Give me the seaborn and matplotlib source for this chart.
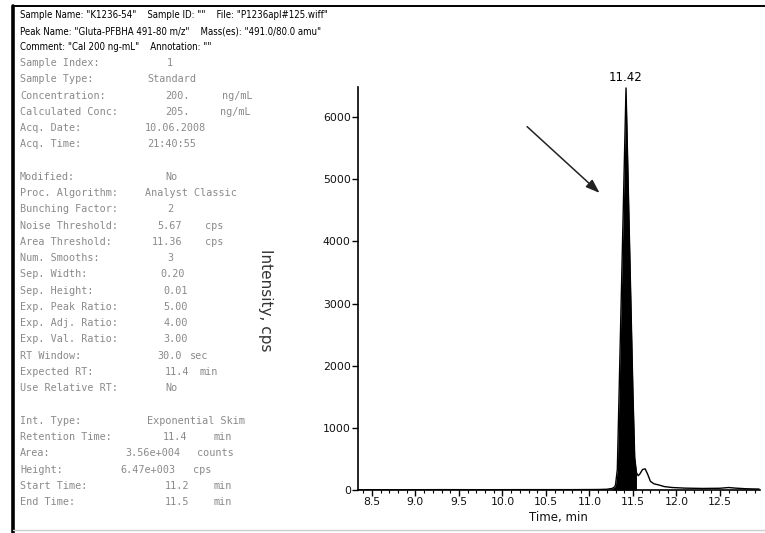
import numpy as np
import pandas as pd
import matplotlib
matplotlib.use("Agg")
import matplotlib.pyplot as plt
import seaborn as sns

# ---- chromatogram trace (XIC, 491.0/80.0 amu) ----
time_min = [8.34, 8.8, 9.3, 9.8, 10.3, 10.8, 11.1, 11.2, 11.26, 11.29, 11.30, 11.32, 11.34,
             11.36, 11.38, 11.40, 11.42, 11.44, 11.46, 11.48, 11.50, 11.52, 11.54,
             11.56, 11.58, 11.61, 11.64, 11.67, 11.70, 11.74, 11.80, 11.86, 11.95,
             12.10, 12.30, 12.50, 12.60, 12.68, 12.80, 12.95]
intensity_cps = [5, 4, 6, 5, 6, 6, 8, 12, 25, 50, 90, 330, 1540,
                 2770, 4000, 5240, 6470, 5240, 4000, 2770, 1540, 520, 280,
                 230, 260, 330, 340, 250, 140, 100, 80, 55, 40,
                 30, 25, 28, 40, 30, 20, 15]

peak_rt = 11.42
peak_height = 6470
start_time = 11.24
end_time = 11.54

x_ticks = [8.5, 9.0, 9.5, 10.0, 10.5, 11.0, 11.5, 12.0, 12.5]
y_ticks = [0, 1000, 2000, 3000, 4000, 5000, 6000]

header_lines = [
    'Sample Name: "K1236-54"    Sample ID: ""    File: "P1236apl#125.wiff"',
    'Peak Name: "Gluta-PFBHA 491-80 m/z"    Mass(es): "491.0/80.0 amu"',
    'Comment: "Cal 200 ng-mL"    Annotation: ""',
]

param_labels = ["Sample Index:", "Sample Type:", "Concentration:", "Calculated Conc:",
                "Acq. Date:", "Acq. Time:", "", "Modified:", "Proc. Algorithm:",
                "Bunching Factor:", "Noise Threshold:", "Area Threshold:", "Num. Smooths:",
                "Sep. Width:", "Sep. Height:", "Exp. Peak Ratio:", "Exp. Adj. Ratio:",
                "Exp. Val. Ratio:", "RT Window:", "Expected RT:", "Use Relative RT:", "",
                "Int. Type:", "Retention Time:", "Area:", "Height:", "Start Time:", "End Time:"]
param_values = ["1", "Standard", "200.", "205.", "10.06.2008", "21:40:55", "", "No",
                "Analyst Classic", "2", "5.67", "11.36", "3", "0.20", "0.01", "5.00", "4.00",
                "3.00", "30.0", "11.4", "No", "", "Exponential Skim",
                f"{peak_rt:.1f}", "3.56e+004", f"{peak_height/1000:.2f}e+003",
                f"{start_time:.1f}", f"{end_time:.1f}"]
param_units = ["", "", "ng/mL", "ng/mL", "", "", "", "", "", "", "cps", "cps", "", "", "",
               "", "", "", "sec", "min", "", "", "", "min", "counts", "cps", "min", "min"]
value_x = [167, 147, 165, 165, 145, 147, 0, 165, 145, 167, 157, 152, 167, 160, 163, 163,
           163, 163, 157, 165, 165, 0, 147, 163, 125, 120, 165, 165]
unit_x = [0, 0, 222, 220, 0, 0, 0, 0, 0, 0, 205, 205, 0, 0, 0, 0, 0, 0, 190, 200, 0, 0,
          0, 213, 197, 193, 213, 213]

sns.set_theme(style="white")
plt.rcParams["font.family"] = ["DejaVu Sans"]

W, H = 765, 533
fig = plt.figure(figsize=(W / 100, H / 100), dpi=100)
fig.patch.set_facecolor("white")


def px(x, y):
    return x / W, 1 - y / H


# frame lines of the report page
fig.add_artist(plt.Line2D([13 / W, 13 / W], [0, 1 - 6 / H], color="black", lw=2.6))
fig.add_artist(plt.Line2D([13 / W, 1], [1 - 6 / H, 1 - 6 / H], color="black", lw=1.4))
fig.add_artist(plt.Line2D([13 / W, 1], [1 - 530 / H, 1 - 530 / H], color="#cccccc", lw=1))

# header
for i, line in enumerate(header_lines):
    fig.text(*px(20, 15 + 16 * i), line, fontsize=6.9, color="black",
             fontstretch="condensed", va="center", ha="left")

# processing parameters
mono = dict(family="DejaVu Sans Mono", fontsize=7.3, color="#8a8a8a", va="center")
for i, (lab, val, unit, vx, ux) in enumerate(zip(param_labels, param_values, param_units,
                                                  value_x, unit_x)):
    y = 63 + 16.26 * i
    if lab:
        fig.text(*px(20, y), lab, **mono)
    if val:
        fig.text(*px(vx, y), val, **mono)
    if unit:
        fig.text(*px(ux, y), unit, **mono)

# chromatogram axes
ax = fig.add_axes([357.7 / W, 1 - 490 / H, (760 - 357.7) / W, (490 - 86.7) / H])
trace = pd.DataFrame({"time": time_min, "intensity": intensity_cps})
sns.lineplot(data=trace, x="time", y="intensity", ax=ax, color="black", lw=1.0)

seg = trace[(trace.time >= start_time) & (trace.time <= end_time)]
ax.fill_between(seg.time, 0, seg.intensity, color="black", lw=0)

ax.set_xlim(8.336, 12.96)
ax.set_ylim(0, 6490)
ax.set_xticks(x_ticks)
ax.set_xticks(np.arange(8.4, 12.95, 0.1), minor=True)
ax.set_yticks(y_ticks)
ax.set_xticklabels([f"{t:.1f}" for t in x_ticks], fontsize=7.8)
ax.set_yticklabels([str(t) for t in y_ticks], fontsize=7.8)
ax.tick_params(axis="both", which="major", direction="out", length=4, width=1,
               color="black", pad=1, labelcolor="#111111")
ax.tick_params(axis="x", which="minor", direction="out", length=2.5, width=0.8,
               color="black", bottom=True)
ax.tick_params(axis="x", which="both", bottom=True)
ax.tick_params(axis="y", which="major", left=True)
sns.despine(ax=ax)
for s in ("left", "bottom"):
    ax.spines[s].set_color("black")
    ax.spines[s].set_linewidth(1.2)
ax.set_facecolor("none")
ax.set_xlabel("Time, min", fontsize=8.5, labelpad=3, color="#111111")
ax.set_ylabel("")
fig.text(*px(266, 300), "Intensity, cps", rotation=-90, fontsize=11, color="#333333",
         ha="center", va="center")

ax.text(peak_rt, peak_height + 60, f"{peak_rt:.2f}", ha="center", va="bottom",
        fontsize=8.5, color="black")
ax.annotate("", xy=(11.14, 4750), xytext=(10.26, 5877),
            arrowprops=dict(arrowstyle="-|>,head_length=0.7,head_width=0.25",
                            color="#222222", lw=1.1))

fig.savefig("out.png", dpi=100, facecolor="white")
